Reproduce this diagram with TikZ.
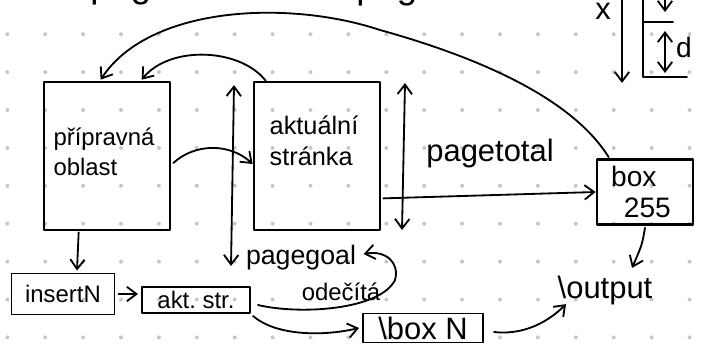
\documentclass[tikz,border=0pt]{standalone}
\usepackage{fontspec}
\setmainfont{Liberation Sans}
\usetikzlibrary{arrows.meta, calc, positioning}

\newcommand{\hand}[2]{\fontsize{#1}{#2}\selectfont}

\begin{document}
\begin{tikzpicture}[x=0.025cm, y=-0.025cm, line cap=round, line join=round]
		\tikzstyle{box} = [draw, line width=1.9pt, inner sep=0pt]
		\tikzstyle{tag} = [draw, line width=1.4pt, inner sep=0pt]
		\tikzstyle{txt} = [inner sep=1pt, align=left]
		\tikzstyle{arr} = [line width=1.3pt, -{Straight Barb[length=2.4mm, width=3.6mm]}]
		\tikzstyle{both} = [line width=1.3pt, {Straight Barb[length=2.4mm, width=3.6mm]}-{Straight Barb[length=2.4mm, width=3.6mm]}]

		\useasboundingbox (0,0) rectangle (709,344);
		\clip (0,0) rectangle (709,344);

		\foreach \i in {0,...,18}
			\foreach \j in {0,...,8}
				\fill[black!22] (7.3+37.9*\i, 34.2+37.9*\j) circle[radius=0.05cm];

		\node[anchor=base west, inner sep=0pt, font=\hand{26pt}{26pt}] (title1) at (90,-3) {page};
		\node[anchor=base west, inner sep=0pt, font=\hand{26pt}{26pt}] (title2) at (356,-2) {page};

		\node[box, minimum width=3.15cm, minimum height=3.7cm] (prip) at (107,156) {};
		\node[txt, font=\hand{17pt}{21pt}] (priptxt) at (104,152) {přípravná\\oblast};

		\node[box, minimum width=3.15cm, minimum height=3.7cm] (aktual) at (317,156) {};
		\node[txt, font=\hand{18pt}{22pt}] (aktualtxt) at (314,141) {aktuální\\stránka};

		\node[box, minimum width=2.4cm, minimum height=1.625cm] (box255) at (645,192) {};
		\node[txt, font=\hand{20pt}{22pt}] (box255txt) at (641,192) {box\\\hspace*{0.45em}255};

		\node[tag, minimum width=2.575cm, minimum height=1.025cm, font=\hand{17pt}{17pt}] (insertn) at (63,294) {insertN};
		\node[tag, minimum width=2.7cm, minimum height=0.65cm, font=\hand{17pt}{17pt}] (aktstr) at (196,300) {akt.\ str.};
		\node[tag, minimum width=3cm, minimum height=0.725cm, font=\hand{22pt}{22pt}] (boxn) at (423,328) {\textbackslash box N};

		\node[txt, font=\hand{19pt}{19pt}] (pagegoal) at (301,258) {pagegoal};
		\node[txt, font=\hand{17pt}{17pt}] (odecita) at (341,292) {odečítá};
		\node[txt, font=\hand{22pt}{22pt}] (pagetotal) at (490,153) {pagetotal};
		\node[txt, font=\hand{22pt}{22pt}] (output) at (605,290) {\textbackslash output};

		\node[txt, font=\hand{22pt}{22pt}] (xlab) at (603,11) {x};
		\node[txt, font=\hand{20pt}{20pt}] (dlab) at (684,47) {d};

		\coordinate (goaltop) at (234,85);
		\coordinate (goalbot) at (231,266);
		\coordinate (totaltop) at (405,83);
		\coordinate (totalbot) at (402,230);
		\coordinate (xtop) at (622,-5);
		\coordinate (xbot) at (622,83);
		\coordinate (dtop) at (665,31);
		\coordinate (dbot) at (665,73);

		\draw[arr] ($(prip.east)+(2,7)$) .. controls (195,143) and (230,143) .. ($(aktual.west)+(0,8)$);
		\draw[arr] ($(aktual.north west)+(13,0)$) .. controls (240,48) and (170,45) .. ($(prip.north west)+(99,-1)$);
		\draw[arr] ($(box255.north west)+(13,-1)$) .. controls (570,95) and (470,55) .. (380,30)
			.. controls (290,0) and (150,5) .. ($(prip.north west)+(58,-1)$);

		\draw[both] (goaltop) -- (goalbot);
		\draw[both] (totaltop) -- (totalbot);

		\draw[arr] ($(aktual.south east)+(2,-33)$) -- (box255.west);
		\draw[arr] ($(box255.south)+(0,2)$) .. controls (642,245) .. ($(output.north)+(27,-6)$);

		\draw[arr] ($(prip.south west)+(36,1)$) -- ($(insertn.north)+(14,-2)$);
		\draw[arr] ($(insertn.east)+(3,0)$) -- ($(insertn.east -| aktstr.west)+(-3,0)$);
		\draw[arr] ($(aktstr.south east)+(2,2)$) .. controls (275,335) and (320,337) .. ($(boxn.west)+(-3,0)$);
		\draw[arr] ($(aktstr.east)+(7,5)$) .. controls (300,315) and (380,310) .. (395,280)
			.. controls (400,262) and (385,250) .. ($(pagegoal.east)+(6,-4)$);
		\draw[arr] ($(boxn.east)+(10,4)$) .. controls (520,335) and (545,325) .. ($(output.south west)+(10,-2)$);

		\draw[arr] (xtop) -- (xbot);
		\draw[line width=1.3pt] (643,-5) -- (643,77) -- (687,77);
		\draw[line width=1.3pt] (643,22) -- (673,22);
		\draw[both] (dtop) -- (dbot);
		\draw[arr] (665,-5) -- (665,12);
	\end{tikzpicture}
\end{document}
